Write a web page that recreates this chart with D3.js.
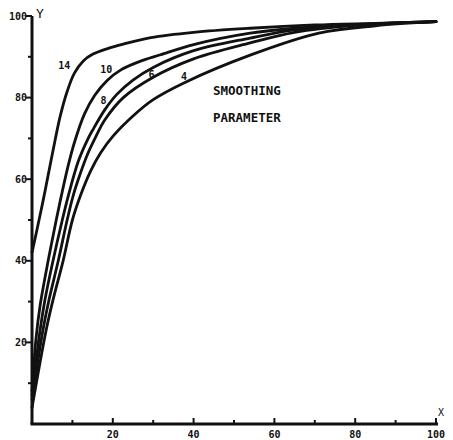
<!DOCTYPE html>
<html>
<head>
<meta charset="utf-8">
<script src="https://cdn.jsdelivr.net/npm/d3@7"></script>
<style>
  body { margin: 0; background: #fff; }
  svg text { font-family: "DejaVu Sans Mono", monospace; font-weight: bold; fill: #111; }
</style>
</head>
<body>
<div id="chart"></div>
<script>
// smoothing parameter curves as [x, y]
var params = ["14", "10", "8", "6", "4"];
var curve14 = [[0,42],[1.2,47.5],[2.7,54.5],[4,61],[5.7,69.5],[7,75.5],[8.7,81.5],[10.5,86],[12.7,89],[15,90.6],[18.7,92],[22.6,93.1],[29.4,94.7],[40,96],[54,97],[70,97.8],[85,98.2],[100,98.6]];
var curve10 = [[0,8],[1,21],[2,29],[4,40],[6,50],[7.5,57],[9,63.5],[10.5,69],[13,76],[15.5,80.5],[18.6,84.2],[22,86.8],[27.6,89.2],[31.8,90.5],[40,93],[54,95.8],[65,97],[80,97.9],[100,98.6]];
var curve8  = [[0,7],[2,23],[3.2,30.4],[5.2,40],[7.5,50],[9,56],[11.5,64.5],[13.7,69.6],[15,72],[18,77],[21,80.8],[25,84.3],[30,87.4],[40,91.5],[54,94.6],[65,96.6],[80,97.8],[100,98.6]];
var curve6  = [[0,6],[2.7,23],[4.2,30.4],[6.5,40],[8.7,50],[10.2,56],[12,61.5],[13.7,66],[15.5,69.8],[18,74.5],[22.6,80],[30,85],[40,89.5],[54,93.4],[65,96],[80,97.7],[100,98.6]];
var curve4  = [[0,4],[3.5,23],[5.2,30.4],[7.7,40],[10,50],[12,56],[14.5,62],[17,66.5],[20,70.5],[25,75.5],[30,79.5],[37.6,83.6],[54,90.4],[71,95.8],[85,97.6],[100,98.6]];
var curves = [curve14, curve10, curve8, curve6, curve4];
var labelAt = [[8,87],[18.4,86],[17.7,78.5],[29.6,84.8],[37.6,84.3]];

var xTicks = [20, 40, 60, 80, 100];
var yTicks = [20, 40, 60, 80, 100];
var minorTicks = [10, 30, 50, 70, 90];
var note = ["SMOOTHING", "PARAMETER"];

var width = 453, height = 440;
var svg = d3.select("#chart").append("svg")
  .attr("width", width)
  .attr("height", height);

var x = d3.scaleLinear().domain([0, 100]).range([32, 436]);
var y = d3.scaleLinear().domain([0, 100]).range([424, 16]);

// axes
svg.append("line")
  .attr("x1", x(0)).attr("x2", x(0)).attr("y1", y(0)).attr("y2", y(100))
  .attr("stroke", "#111").attr("stroke-width", 3);
svg.append("line")
  .attr("x1", x(0) - 1.5).attr("x2", x(100) + 2).attr("y1", y(0)).attr("y2", y(0))
  .attr("stroke", "#111").attr("stroke-width", 3);

// y ticks point outward, x ticks point up
svg.selectAll(".ytick").data(yTicks).enter().append("line")
  .attr("x1", x(0) - 6).attr("x2", x(0))
  .attr("y1", function(d) { return y(d); }).attr("y2", function(d) { return y(d); })
  .attr("stroke", "#111").attr("stroke-width", 2);
svg.selectAll(".yminor").data(minorTicks).enter().append("line")
  .attr("x1", x(0) - 4).attr("x2", x(0))
  .attr("y1", function(d) { return y(d); }).attr("y2", function(d) { return y(d); })
  .attr("stroke", "#111").attr("stroke-width", 2);
svg.selectAll(".xtick").data(xTicks).enter().append("line")
  .attr("x1", function(d) { return x(d); }).attr("x2", function(d) { return x(d); })
  .attr("y1", y(0)).attr("y2", y(0) - 6)
  .attr("stroke", "#111").attr("stroke-width", 2);
svg.selectAll(".xminor").data(minorTicks).enter().append("line")
  .attr("x1", function(d) { return x(d); }).attr("x2", function(d) { return x(d); })
  .attr("y1", y(0)).attr("y2", y(0) - 4)
  .attr("stroke", "#111").attr("stroke-width", 2);

svg.selectAll(".ylab").data(yTicks).enter().append("text")
  .attr("x", x(0) - 5).attr("y", function(d) { return y(d) + 3.5; })
  .attr("text-anchor", "end").attr("font-size", 10)
  .text(function(d) { return d; });
svg.selectAll(".xlab").data(xTicks).enter().append("text")
  .attr("x", function(d) { return x(d); }).attr("y", y(0) + 14)
  .attr("text-anchor", "middle").attr("font-size", 10)
  .text(function(d) { return d; });

svg.append("text").attr("x", x(0) + 4).attr("y", y(100) + 2)
  .attr("font-size", 13).style("font-weight", "normal").text("Y");
svg.append("text").attr("x", x(100) + 2).attr("y", y(0) - 8)
  .attr("font-size", 10).style("font-weight", "normal").text("X");

// curves
var line = d3.line()
  .x(function(d) { return x(d[0]); })
  .y(function(d) { return y(d[1]); })
  .curve(d3.curveCatmullRom.alpha(0.5));

svg.selectAll(".curve").data(curves).enter().append("path")
  .attr("d", line)
  .attr("fill", "none")
  .attr("stroke", "#111")
  .attr("stroke-width", 2.8)
  .attr("stroke-linecap", "round");

svg.selectAll(".clab").data(params).enter().append("text")
  .attr("x", function(d, i) { return x(labelAt[i][0]); })
  .attr("y", function(d, i) { return y(labelAt[i][1]); })
  .attr("text-anchor", "middle").attr("font-size", 10)
  .text(function(d) { return d; });

svg.selectAll(".note").data(note).enter().append("text")
  .attr("x", 213)
  .attr("y", function(d, i) { return 95 + i * 27; })
  .attr("font-size", 12.5)
  .text(function(d) { return d; });
</script>
</body>
</html>
